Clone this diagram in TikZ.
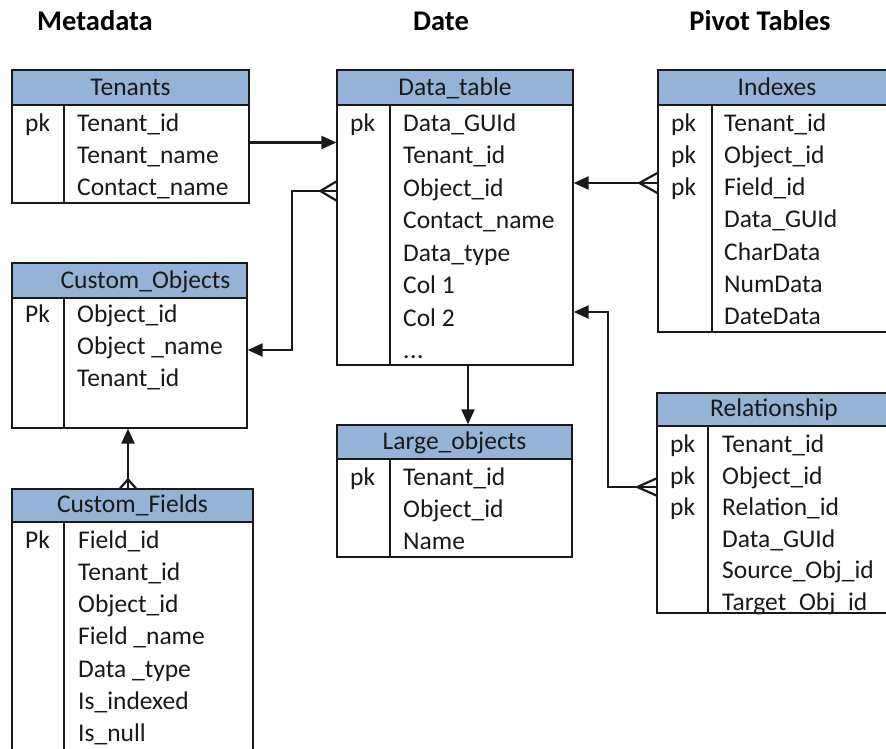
\documentclass[tikz,border=0pt]{standalone}
\usepackage{fontspec}
\setmainfont{Carlito}
\usetikzlibrary{arrows.meta,fit,calc}
\definecolor{hdrblue}{RGB}{149,179,215}
\definecolor{ink}{RGB}{25,25,25}
\tikzset{
 tabbody/.style={draw=ink, line width=1.3pt, fill=white, inner sep=0pt},
 tabhead/.style={draw=ink, line width=1.3pt, fill=hdrblue, inner sep=0pt},
 tabline/.style={draw=ink, line width=1.3pt},
 titletext/.style={font=\fontsize{25.5}{30}\selectfont, text=ink, anchor=base, inner sep=0pt},
 rowtext/.style={font=\fontsize{25.5}{30}\selectfont, text=ink, anchor=base west, inner sep=0pt},
 grptext/.style={font=\fontsize{28.5}{32}\selectfont\bfseries, text=black, anchor=base, inner sep=0pt},
 conn/.style={draw=ink, line width=2.2pt},
 arr/.style={conn, -{Triangle[length=15pt,width=13pt]}},
}
\newcommand\erdtab[9]{%
  \node[tabbody, fit={(#2,#3) (#4,#6)}] (#1) {};
  \node[tabhead, fit={(#2,#3) (#4,#5)}] (#1-h) {};
  \draw[tabline] (#7,#5) -- (#7,#6);
  \node[titletext] (#1-t) at ({(#2+#4)/2+#9},{#5-9.5}) {#8};
}
\begin{document}
\begin{tikzpicture}[x=1pt,y=-1pt]
\useasboundingbox (0,0) rectangle (886,748);
\clip (0,0) rectangle (886,748);
\fill[white] (0,0) rectangle (886,748);

% group labels
\node[grptext] (g1) at (95,30) {Metadata};
\node[grptext] (g2) at (441,30) {Date};
\node[grptext] (g3) at (760,30) {Pivot Tables};

% Tenants
\erdtab{tn}{12}{70}{249}{105}{203}{64}{Tenants}{0}
\node[rowtext] (tn-pk) at (25,131) {pk};
\foreach \t [count=\i] in {Tenant\_id,Tenant\_name,Contact\_name}
  \node[rowtext] (tn-\i) at (77,{131+32*(\i-1)}) {\t};

% Data_table
\erdtab{dt}{337}{70}{573}{105}{365}{390}{Data\_table}{0}
\node[rowtext] (dt-pk) at (350,131) {pk};
\foreach \t [count=\i] in {Data\_GUId,Tenant\_id,Object\_id,Contact\_name,Data\_type,Col 1,Col 2}
  \node[rowtext] (dt-\i) at (403,{131+32.5*(\i-1)}) {\t};
\node[rowtext] (dt-8) at (403,{131+32.5*7}) {.\kern0.5pt.\kern0.5pt.};

% Indexes
\erdtab{ix}{658}{70}{896}{105}{332}{712}{Indexes}{0}
\foreach \i in {1,2,3}
  \node[rowtext] (ix-pk\i) at (671,{131+32.3*(\i-1)}) {pk};
\foreach \t [count=\i] in {Tenant\_id,Object\_id,Field\_id,Data\_GUId,CharData,NumData,DateData}
  \node[rowtext] (ix-\i) at (724,{131+32.3*(\i-1)}) {\t};

% Custom_Objects
\erdtab{co}{12}{263}{247}{298}{428}{64}{Custom\_Objects}{16}
\node[rowtext] (co-pk) at (25,322.5) {Pk};
\foreach \t [count=\i] in {Object\_id,Object \_name,Tenant\_id}
  \node[rowtext] (co-\i) at (77,{322.5+32*(\i-1)}) {\t};

% Custom_Fields
\erdtab{cf}{12}{489}{253}{522}{770}{64}{Custom\_Fields}{0}
\node[rowtext] (cf-pk) at (25,548) {Pk};
\foreach \t [count=\i] in {Field\_id,Tenant\_id,Object\_id,Field \_name,Data \_type,Is\_indexed,Is\_null}
  \node[rowtext] (cf-\i) at (78,{548+32.3*(\i-1)}) {\t};

% Large_objects
\erdtab{lo}{337}{425}{572}{459}{557}{390}{Large\_objects}{0}
\node[rowtext] (lo-pk) at (350,485) {pk};
\foreach \t [count=\i] in {Tenant\_id,Object\_id,Name}
  \node[rowtext] (lo-\i) at (403,{485+32*(\i-1)}) {\t};

% Relationship
\erdtab{rl}{657}{393}{891}{426}{613}{708}{Relationship}{0}
\foreach \i in {1,2,3}
  \node[rowtext] (rl-pk\i) at (670,{452.5+31.5*(\i-1)}) {pk};
\foreach \t [count=\i] in {Tenant\_id,Object\_id,Relation\_id,Data\_GUId,Source\_Obj\_id,Target\_Obj\_id}
  \node[rowtext] (rl-\i) at (722,{452.5+31.5*(\i-1)}) {\t};

% connectors
\coordinate (c1) at (0,142.5);
\draw[arr] (tn.east |- c1) -- (dt.west |- c1);

\coordinate (c2a) at (292,191);
\coordinate (c2b) at (292,350);
\draw[arr] (dt.west |- c2a) -- (c2a) -- (c2b) -- (co.east |- c2b);
\draw[conn] (dt.west |- c2a) ++(-16,0) -- ++(16,-9.5) ++(-16,9.5) -- ++(16,9.5);

\coordinate (c3) at (0,183);
\draw[arr] (ix.west |- c3) -- (dt.east |- c3);
\draw[conn] (ix.west |- c3) ++(-18,0) -- ++(18,-10) ++(-18,10) -- ++(18,10);

\coordinate (c4a) at (608,487);
\coordinate (c4b) at (608,312);
\draw[arr] (rl.west |- c4a) -- (c4a) -- (c4b) -- (dt.east |- c4b);
\draw[conn] (rl.west |- c4a) ++(-19,0) -- ++(19,-8.5) ++(-19,8.5) -- ++(19,8.5);

\coordinate (c5) at (468,0);
\draw[arr] (dt.south -| c5) -- (lo.north -| c5);

\coordinate (c6) at (128,0);
\draw[arr] (cf.north -| c6) -- (co.south -| c6);
\draw[conn] (cf.north -| c6) ++(0,-9) -- ++(-8,9) ++(8,-9) -- ++(8,9);
\end{tikzpicture}
\end{document}
